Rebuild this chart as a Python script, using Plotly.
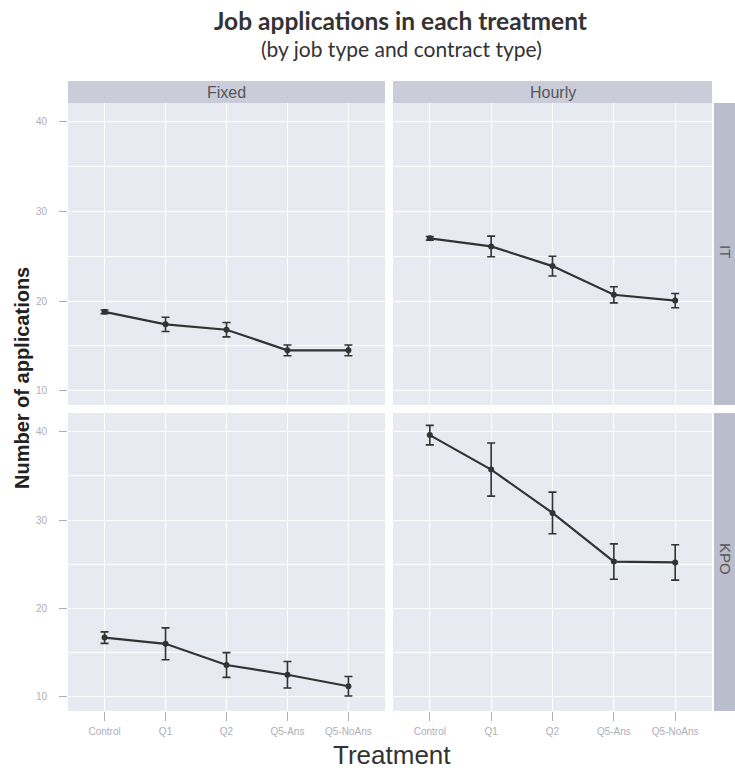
import plotly.graph_objects as go

treatments = ["Control", "Q1", "Q2", "Q5-Ans", "Q5-NoAns"]

it_fixed_mean = [18.8, 17.4, 16.8, 14.5, 14.5]
it_fixed_err = [0.2, 0.8, 0.8, 0.6, 0.6]
it_hourly_mean = [27.0, 26.1, 23.9, 20.7, 20.05]
it_hourly_err = [0.2, 1.15, 1.1, 0.9, 0.8]
kpo_fixed_mean = [16.7, 16.0, 13.6, 12.5, 11.2]
kpo_fixed_err = [0.65, 1.8, 1.4, 1.5, 1.1]
kpo_hourly_mean = [39.6, 35.7, 30.8, 25.3, 25.2]
kpo_hourly_err = [1.1, 3.0, 2.35, 2.0, 2.0]

col_labels = ["Fixed", "Hourly"]
row_labels = ["IT", "KPO"]

W, H = 735, 770
def fx(px):
    return px / W
def fy(py):
    return 1 - py / H

col_px = [(68, 385), (393, 712)]
row_px = [(103, 405), (413, 711)]

panel_bg = "#E8EAF2"
strip_bg = "#CACDD9"
strip_bg_r = "#BABDCB"
line_col = "#333333"
tick_col = "#AEAEB4"

fig = go.Figure()

data = {
    (0, 0): (it_fixed_mean, it_fixed_err),
    (0, 1): (it_hourly_mean, it_hourly_err),
    (1, 0): (kpo_fixed_mean, kpo_fixed_err),
    (1, 1): (kpo_hourly_mean, kpo_hourly_err),
}

shapes = []
annotations = []
idx = 0
for r in range(2):
    for c in range(2):
        idx += 1
        sfx = "" if idx == 1 else str(idx)
        mean, err = data[(r, c)]
        fig.add_trace(go.Scatter(
            x=treatments, y=mean,
            mode="lines+markers",
            line=dict(color=line_col, width=2.2),
            marker=dict(color=line_col, size=6),
            error_y=dict(type="data", array=err, visible=True,
                         color=line_col, thickness=1.6, width=4),
            xaxis="x" + sfx, yaxis="y" + sfx, showlegend=False,
        ))
        x0, x1 = col_px[c]
        y0, y1 = row_px[r]
        xa = dict(
            domain=[fx(x0), fx(x1)], anchor="y" + sfx,
            type="category", categoryorder="array", categoryarray=treatments,
            range=[-0.6, 4.6], showgrid=True, gridcolor="white", gridwidth=1.2,
            zeroline=False, showline=False, fixedrange=True,
            showticklabels=(r == 1),
            ticks="outside" if r == 1 else "", ticklen=9, tickcolor=tick_col, tickwidth=1,
            tickfont=dict(family="Liberation Sans, Arial", size=10, color=tick_col),
            ticklabelstandoff=2,
        )
        ya = dict(
            domain=[fy(y1), fy(y0)], anchor="x" + sfx,
            range=[8.4, 42.1], tickvals=[10, 20, 30, 40],
            showgrid=True, gridcolor="white", gridwidth=1.2,
            minor=dict(tickvals=[15, 25, 35], showgrid=True, gridcolor="white", gridwidth=0.6),
            zeroline=False, showline=False, fixedrange=True,
            showticklabels=(c == 0),
            ticks="outside" if c == 0 else "", ticklen=8, tickcolor=tick_col, tickwidth=1,
            tickfont=dict(family="Liberation Sans, Arial", size=10, color=tick_col),
            ticklabelstandoff=10,
        )
        fig.update_layout(**{"xaxis" + sfx: xa, "yaxis" + sfx: ya})
        shapes.append(dict(type="rect", xref="paper", yref="paper", layer="below",
                           x0=fx(x0), x1=fx(x1), y0=fy(y1), y1=fy(y0),
                           fillcolor=panel_bg, line=dict(width=0)))

# top strips
for c, lab in enumerate(col_labels):
    x0, x1 = col_px[c]
    shapes.append(dict(type="rect", xref="paper", yref="paper", layer="below",
                       x0=fx(x0), x1=fx(x1), y0=fy(103), y1=fy(81),
                       fillcolor=strip_bg, line=dict(width=0)))
    annotations.append(dict(text=lab, xref="paper", yref="paper",
                            x=fx((x0 + x1) / 2), y=fy(92), showarrow=False,
                            xanchor="center", yanchor="middle",
                            font=dict(family="Liberation Sans, Arial", size=16, color="#555555")))

# right strips
for r, lab in enumerate(row_labels):
    y0, y1 = row_px[r]
    shapes.append(dict(type="rect", xref="paper", yref="paper", layer="below",
                       x0=fx(714), x1=1, y0=fy(y1), y1=fy(y0),
                       fillcolor=strip_bg_r, line=dict(width=0)))
    annotations.append(dict(text=lab, xref="paper", yref="paper",
                            x=fx(726), y=fy((y0 + y1) / 2 - 3), showarrow=False,
                            xanchor="center", yanchor="middle", textangle=90,
                            font=dict(family="Liberation Sans, Arial", size=15, color="#555555")))

annotations.append(dict(text="<b>Job applications in each treatment</b>", xref="paper", yref="paper",
                        x=fx(400), y=fy(21), showarrow=False, xanchor="center", yanchor="middle",
                        font=dict(family="Lato, Open Sans", size=24.5, color="#333333")))
annotations.append(dict(text="(by job type and contract type)", xref="paper", yref="paper",
                        x=fx(401), y=fy(48), showarrow=False, xanchor="center", yanchor="middle",
                        font=dict(family="Lato, Open Sans", size=21, color="#333333")))
annotations.append(dict(text="<b>Number of applications</b>", xref="paper", yref="paper",
                        x=fx(22), y=fy(378), showarrow=False, xanchor="center", yanchor="middle",
                        textangle=-90,
                        font=dict(family="Liberation Sans, Arial", size=20, color="#222222")))
annotations.append(dict(text="Treatment", xref="paper", yref="paper",
                        x=fx(392), y=fy(755), showarrow=False, xanchor="center", yanchor="middle",
                        font=dict(family="Liberation Sans, Arial", size=26, color="#333333")))

fig.update_layout(
    width=W, height=H,
    margin=dict(l=0, r=0, t=0, b=0),
    paper_bgcolor="white", plot_bgcolor="rgba(0,0,0,0)",
    shapes=shapes, annotations=annotations,
    showlegend=False,
)

fig.write_html("out.html", config={"displayModeBar": False},
               post_script="document.body.style.margin='0';document.body.style.overflow='hidden';")
